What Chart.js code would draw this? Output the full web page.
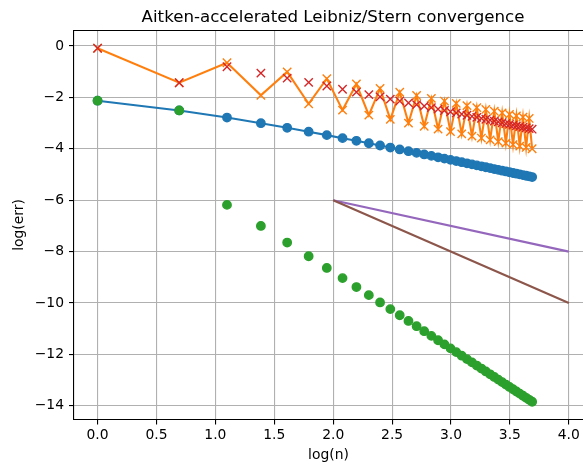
<!DOCTYPE html>
<html><head><meta charset="utf-8">
<script src="https://cdn.jsdelivr.net/npm/chart.js@4/dist/chart.umd.min.js"></script>
<style>html,body{margin:0;padding:0;background:#fff;}canvas{display:block;}</style>
</head><body>
<canvas id="c" width="583" height="464"></canvas>
<script>
// x = log(n), n = 1..40
const logN = [0, 0.6931, 1.0986, 1.3863, 1.6094, 1.7918, 1.9459, 2.0794, 2.1972, 2.3026,
  2.3979, 2.4849, 2.5649, 2.6391, 2.7081, 2.7726, 2.8332, 2.8904, 2.9444, 2.9957,
  3.0445, 3.0910, 3.1355, 3.1781, 3.2189, 3.2581, 3.2958, 3.3322, 3.3673, 3.4012,
  3.4340, 3.4657, 3.4965, 3.5264, 3.5553, 3.5835, 3.6109, 3.6376, 3.6636, 3.6889];

// log(err) of Leibniz partial sums
const leibnizErr = [-2.131, -2.510, -2.787, -3.005, -3.185, -3.337, -3.470, -3.587, -3.691, -3.786,
  -3.873, -3.953, -4.027, -4.095, -4.160, -4.220, -4.277, -4.331, -4.383, -4.431,
  -4.478, -4.522, -4.565, -4.606, -4.645, -4.682, -4.719, -4.754, -4.788, -4.821,
  -4.852, -4.883, -4.913, -4.942, -4.970, -4.997, -5.024, -5.050, -5.075, -5.100];

// log(err) of Stern partial sums
const sternErr = [-0.091, -1.432, -0.653, -1.922, -1.011, -2.250, -1.274, -2.496, -1.482, -2.693,
  -1.654, -2.858, -1.801, -3.000, -1.929, -3.124, -2.042, -3.234, -2.144, -3.333,
  -2.236, -3.423, -2.321, -3.506, -2.399, -3.583, -2.471, -3.654, -2.539, -3.720,
  -2.602, -3.782, -2.662, -3.841, -2.718, -3.896, -2.771, -3.949, -2.821, -3.999];

// log(err) after Aitken acceleration, Leibniz
const aitkenLeibnizErr = [-2.131, -2.510, -6.183, -7.001, -7.647, -8.181, -8.635, -9.030, -9.379, -9.693,
  -9.976, -10.236, -10.475, -10.696, -10.902, -11.095, -11.277, -11.448, -11.609, -11.763,
  -11.909, -12.048, -12.181, -12.309, -12.431, -12.549, -12.662, -12.771, -12.876, -12.978,
  -13.076, -13.171, -13.263, -13.353, -13.440, -13.524, -13.606, -13.686, -13.764, -13.840];

// log(err) after Aitken acceleration, Stern
const aitkenSternErr = [-0.091, -1.432, -0.809, -1.056, -1.254, -1.419, -1.560, -1.684, -1.795, -1.894,
  -1.984, -2.067, -2.144, -2.215, -2.281, -2.344, -2.402, -2.457, -2.510, -2.560,
  -2.607, -2.652, -2.696, -2.737, -2.777, -2.816, -2.853, -2.888, -2.923, -2.956,
  -2.988, -3.019, -3.049, -3.079, -3.107, -3.135, -3.162, -3.188, -3.214, -3.239];

// reference slopes
const refX = [2, 4];
const refSlope1 = [-6, -8];
const refSlope2 = [-6, -10];

const FONT = "'DejaVu Sans', sans-serif";
const pts = (xs, ys) => xs.map((x, i) => ({x: x, y: ys[i]}));

const C_BLUE = '#1f77b4', C_ORANGE = '#ff7f0e', C_GREEN = '#2ca02c',
      C_RED = '#d62728', C_PURPLE = '#9467bd', C_BROWN = '#8c564b';

const frame = {
  id: 'frame',
  beforeDraw(chart) {
    const ctx = chart.ctx;
    ctx.save();
    ctx.fillStyle = '#fff';
    ctx.fillRect(0, 0, chart.width, chart.height);
    ctx.restore();
  },
  afterDraw(chart) {
    const ctx = chart.ctx, a = chart.chartArea;
    ctx.save();
    ctx.strokeStyle = '#000';
    ctx.lineWidth = 1.1;
    ctx.beginPath();
    ctx.moveTo(a.left - 0.5, a.top);
    ctx.lineTo(a.right, a.top);
    ctx.stroke();
    ctx.fillStyle = '#000';
    ctx.font = "16.67px " + FONT;
    ctx.textAlign = 'center';
    ctx.textBaseline = 'alphabetic';
    ctx.fillText('Aitken-accelerated Leibniz/Stern convergence', 333, 22.2);
    ctx.restore();
  }
};

const fmtMinus = v => (v < 0 ? '\u2212' : '') + Math.abs(v);

new Chart(document.getElementById('c'), {
  type: 'scatter',
  data: {
    datasets: [
      {data: pts(logN, leibnizErr), showLine: true, borderColor: C_BLUE, backgroundColor: C_BLUE,
       borderWidth: 2.08, pointStyle: 'circle', pointRadius: 4.2, pointBorderWidth: 1.4,
       pointBorderColor: C_BLUE, pointBackgroundColor: C_BLUE, order: 6},
      {data: pts(logN, sternErr), showLine: true, borderColor: C_ORANGE, backgroundColor: C_ORANGE,
       borderWidth: 2.08, pointStyle: 'crossRot', pointRadius: 5.9, pointBorderWidth: 1.4,
       pointBorderColor: C_ORANGE, order: 5},
      {data: pts(logN, aitkenLeibnizErr), showLine: false, borderColor: C_GREEN, backgroundColor: C_GREEN,
       pointStyle: 'circle', pointRadius: 4.2, pointBorderWidth: 1.4,
       pointBorderColor: C_GREEN, pointBackgroundColor: C_GREEN, order: 4},
      {data: pts(logN, aitkenSternErr), showLine: false, borderColor: C_RED, backgroundColor: C_RED,
       pointStyle: 'crossRot', pointRadius: 5.9, pointBorderWidth: 1.4,
       pointBorderColor: C_RED, order: 3},
      {data: pts(refX, refSlope1), showLine: true, borderColor: C_PURPLE, borderWidth: 2.08,
       pointRadius: 0, order: 2},
      {data: pts(refX, refSlope2), showLine: true, borderColor: C_BROWN, borderWidth: 2.08,
       pointRadius: 0, order: 1}
    ]
  },
  options: {
    responsive: false,
    animation: false,
    devicePixelRatio: 1,
    events: [],
    layout: {autoPadding: false, padding: {top: 30.5, left: 0, right: 0, bottom: 0}},
    plugins: {legend: {display: false}, title: {display: false}, tooltip: {enabled: false}},
    scales: {
      x: {
        type: 'linear', position: 'bottom',
        min: -0.2, max: 4.1205,
        afterFit: s => { s.height = 44.5; s.paddingLeft = 0; s.paddingRight = 0; },
        grid: {color: '#b0b0b0', lineWidth: 1.1, drawTicks: true, tickLength: 5,
               tickColor: '#000', tickWidth: 1.1},
        border: {display: true, color: '#000', width: 1.1},
        ticks: {stepSize: 0.5, includeBounds: false, color: '#000', padding: 3,
                font: {family: FONT, size: 13.89}, maxRotation: 0,
                callback: v => Number(v).toFixed(1)},
        title: {display: true, text: 'log(n)', color: '#000',
                font: {family: FONT, size: 13.89}, padding: {top: 0, bottom: 0}}
      },
      y: {
        type: 'linear', position: 'left',
        min: -14.53, max: 0.6,
        afterFit: s => { s.width = 74; s.paddingTop = 0; s.paddingBottom = 0; },
        grid: {color: '#b0b0b0', lineWidth: 1.1, drawTicks: true, tickLength: 5,
               tickColor: '#000', tickWidth: 1.1},
        border: {display: true, color: '#000', width: 1.1},
        ticks: {stepSize: 2, includeBounds: false, color: '#000', padding: 5,
                font: {family: FONT, size: 13.89},
                callback: v => fmtMinus(v)},
        title: {display: true, text: 'log(err)', color: '#000',
                font: {family: FONT, size: 13.89}, padding: {top: 11.5, bottom: 0}}
      }
    }
  },
  plugins: [frame]
});
</script>
</body></html>
